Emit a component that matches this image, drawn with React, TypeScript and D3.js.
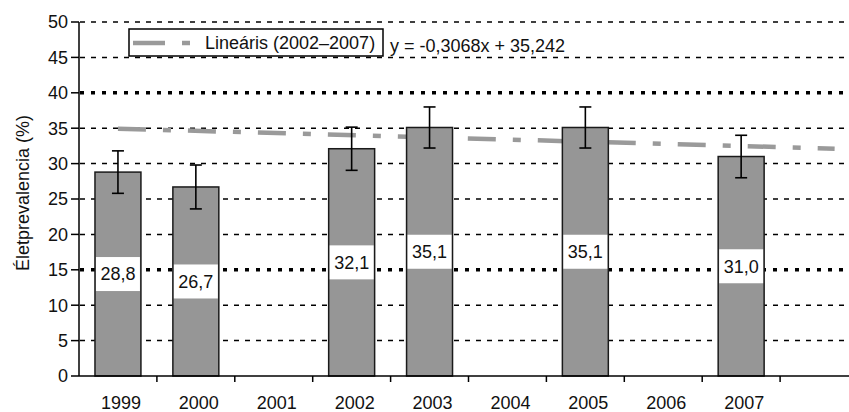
import React from "react";
import * as d3 from "d3";

const categories = ["1999", "2000", "2001", "2002", "2003", "2004", "2005", "2006", "2007", ""];
const values: (number | null)[] = [28.8, 26.7, null, 32.1, 35.1, null, 35.1, null, 31.0, null];
const errors: (number | null)[] = [3.0, 3.1, null, 3.05, 2.9, null, 2.9, null, 3.0, null];
const yTicks = [0, 5, 10, 15, 20, 25, 30, 35, 40, 45, 50];
const heavyTicks = [15, 40];
const trendSlope = -0.3068;
const trendIntercept = 35.242;
const trendRange = [1, 10.2];
const legendLabel = "Lineáris (2002–2007)";
const equationLabel = "y = -0,3068x + 35,242";
const yTitle = "Életprevalencia (%)";

const W = 849;
const H = 412;
const left = 79;
const top = 22;
const bottom = 376;
const step = 77.9;
const right = left + step * categories.length;
const font = "'Liberation Sans', Arial, sans-serif";

export default function App() {
  const x = d3.scaleBand<string>().domain(categories.map((c, i) => String(i))).range([left, right]).paddingInner(0.41).paddingOuter(0.205);
  const y = d3.scaleLinear().domain([0, 50]).range([bottom, top]);
  const xc = (i: number) => (x(String(i)) as number) + x.bandwidth() / 2;
  const xLin = d3.scaleLinear().domain([1, 2]).range([xc(0), xc(1)]);
  const trendLine = d3.line<number>().x((d) => xLin(d)).y((d) => y(trendSlope * d + trendIntercept));
  const bw = x.bandwidth();

  return (
    <svg width={W} height={H} style={{ position: "absolute", left: 0, top: 0, background: "#fff" }} fontFamily={font}>
      <rect x={0} y={0} width={W} height={H} fill="#fff" />
      {/* gridlines */}
      {yTicks.filter((t) => t > 0).map((t) => {
        const heavy = heavyTicks.includes(t);
        return (
          <line key={t} x1={left + 1} x2={right} y1={y(t)} y2={y(t)} stroke="#000"
            strokeWidth={heavy ? 3.5 : 1.5} strokeDasharray={heavy ? "4,7" : "5,6"} />
        );
      })}
      {/* trend line */}
      <path d={trendLine(trendRange) || ""} fill="none" stroke="#9a9a9a" strokeWidth={4.5} strokeDasharray="28,17,8,17" />
      {/* bars */}
      {values.map((v, i) => v == null ? null : (
        <rect key={"b" + i} x={x(String(i))} y={y(v)} width={bw} height={y(0) - y(v)} fill="#969696" stroke="#1a1a1a" strokeWidth={1.5} />
      ))}
      {/* error bars */}
      {values.map((v, i) => {
        const e = errors[i];
        if (v == null || e == null) return null;
        const cx = xc(i);
        return (
          <g key={"e" + i} stroke="#000" strokeWidth={1.6}>
            <line x1={cx} x2={cx} y1={y(v + e)} y2={y(v - e)} />
            <line x1={cx - 6} x2={cx + 6} y1={y(v + e)} y2={y(v + e)} />
            <line x1={cx - 6} x2={cx + 6} y1={y(v - e)} y2={y(v - e)} />
          </g>
        );
      })}
      {/* data labels */}
      {values.map((v, i) => v == null ? null : (
        <g key={"l" + i}>
          <rect x={(x(String(i)) as number) + 1} y={y(v / 2) - 17} width={bw - 2} height={34} fill="#fff" />
          <text x={xc(i)} y={y(v / 2)} dy="0.35em" textAnchor="middle" fontSize={18} fill="#111">
            {v.toFixed(1).replace(".", ",")}
          </text>
        </g>
      ))}
      {/* y axis */}
      <line x1={left} x2={left} y1={top} y2={bottom} stroke="#000" strokeWidth={1.5} />
      {yTicks.map((t) => (
        <g key={"yt" + t}>
          <line x1={left - 8} x2={left} y1={y(t)} y2={y(t)} stroke="#000" strokeWidth={1.5} />
          <text x={left - 11} y={y(t)} dy="0.35em" textAnchor="end" fontSize={18} fill="#111">{t}</text>
        </g>
      ))}
      {/* x axis */}
      <line x1={left} x2={right} y1={bottom} y2={bottom} stroke="#000" strokeWidth={1.5} />
      {categories.map((c, i) => (
        <g key={"xt" + i}>
          <line x1={left + step * (i + 1)} x2={left + step * (i + 1)} y1={bottom} y2={bottom + 6} stroke="#000" strokeWidth={1.5} />
          <text x={xc(i) + 3} y={403} dy="0.35em" textAnchor="middle" fontSize={18} fill="#111">{c}</text>
        </g>
      ))}
      {/* y title */}
      <text transform={`translate(23,${(top + bottom) / 2 - 6}) rotate(-90)`} textAnchor="middle" dy="0.35em" fontSize={18} fill="#111">{yTitle}</text>
      {/* legend */}
      <rect x={129} y={29} width={254} height={27} fill="#fff" stroke="#000" strokeWidth={1.5} />
      <line x1={133} x2={190} y1={43} y2={43} stroke="#9a9a9a" strokeWidth={4.5} strokeDasharray="32,17,8,17" />
      <text x={205} y={43} dy="0.35em" fontSize={18} fill="#111">{legendLabel}</text>
      <text x={390} y={46} dy="0.35em" fontSize={18} fill="#111">{equationLabel}</text>
    </svg>
  );
}
